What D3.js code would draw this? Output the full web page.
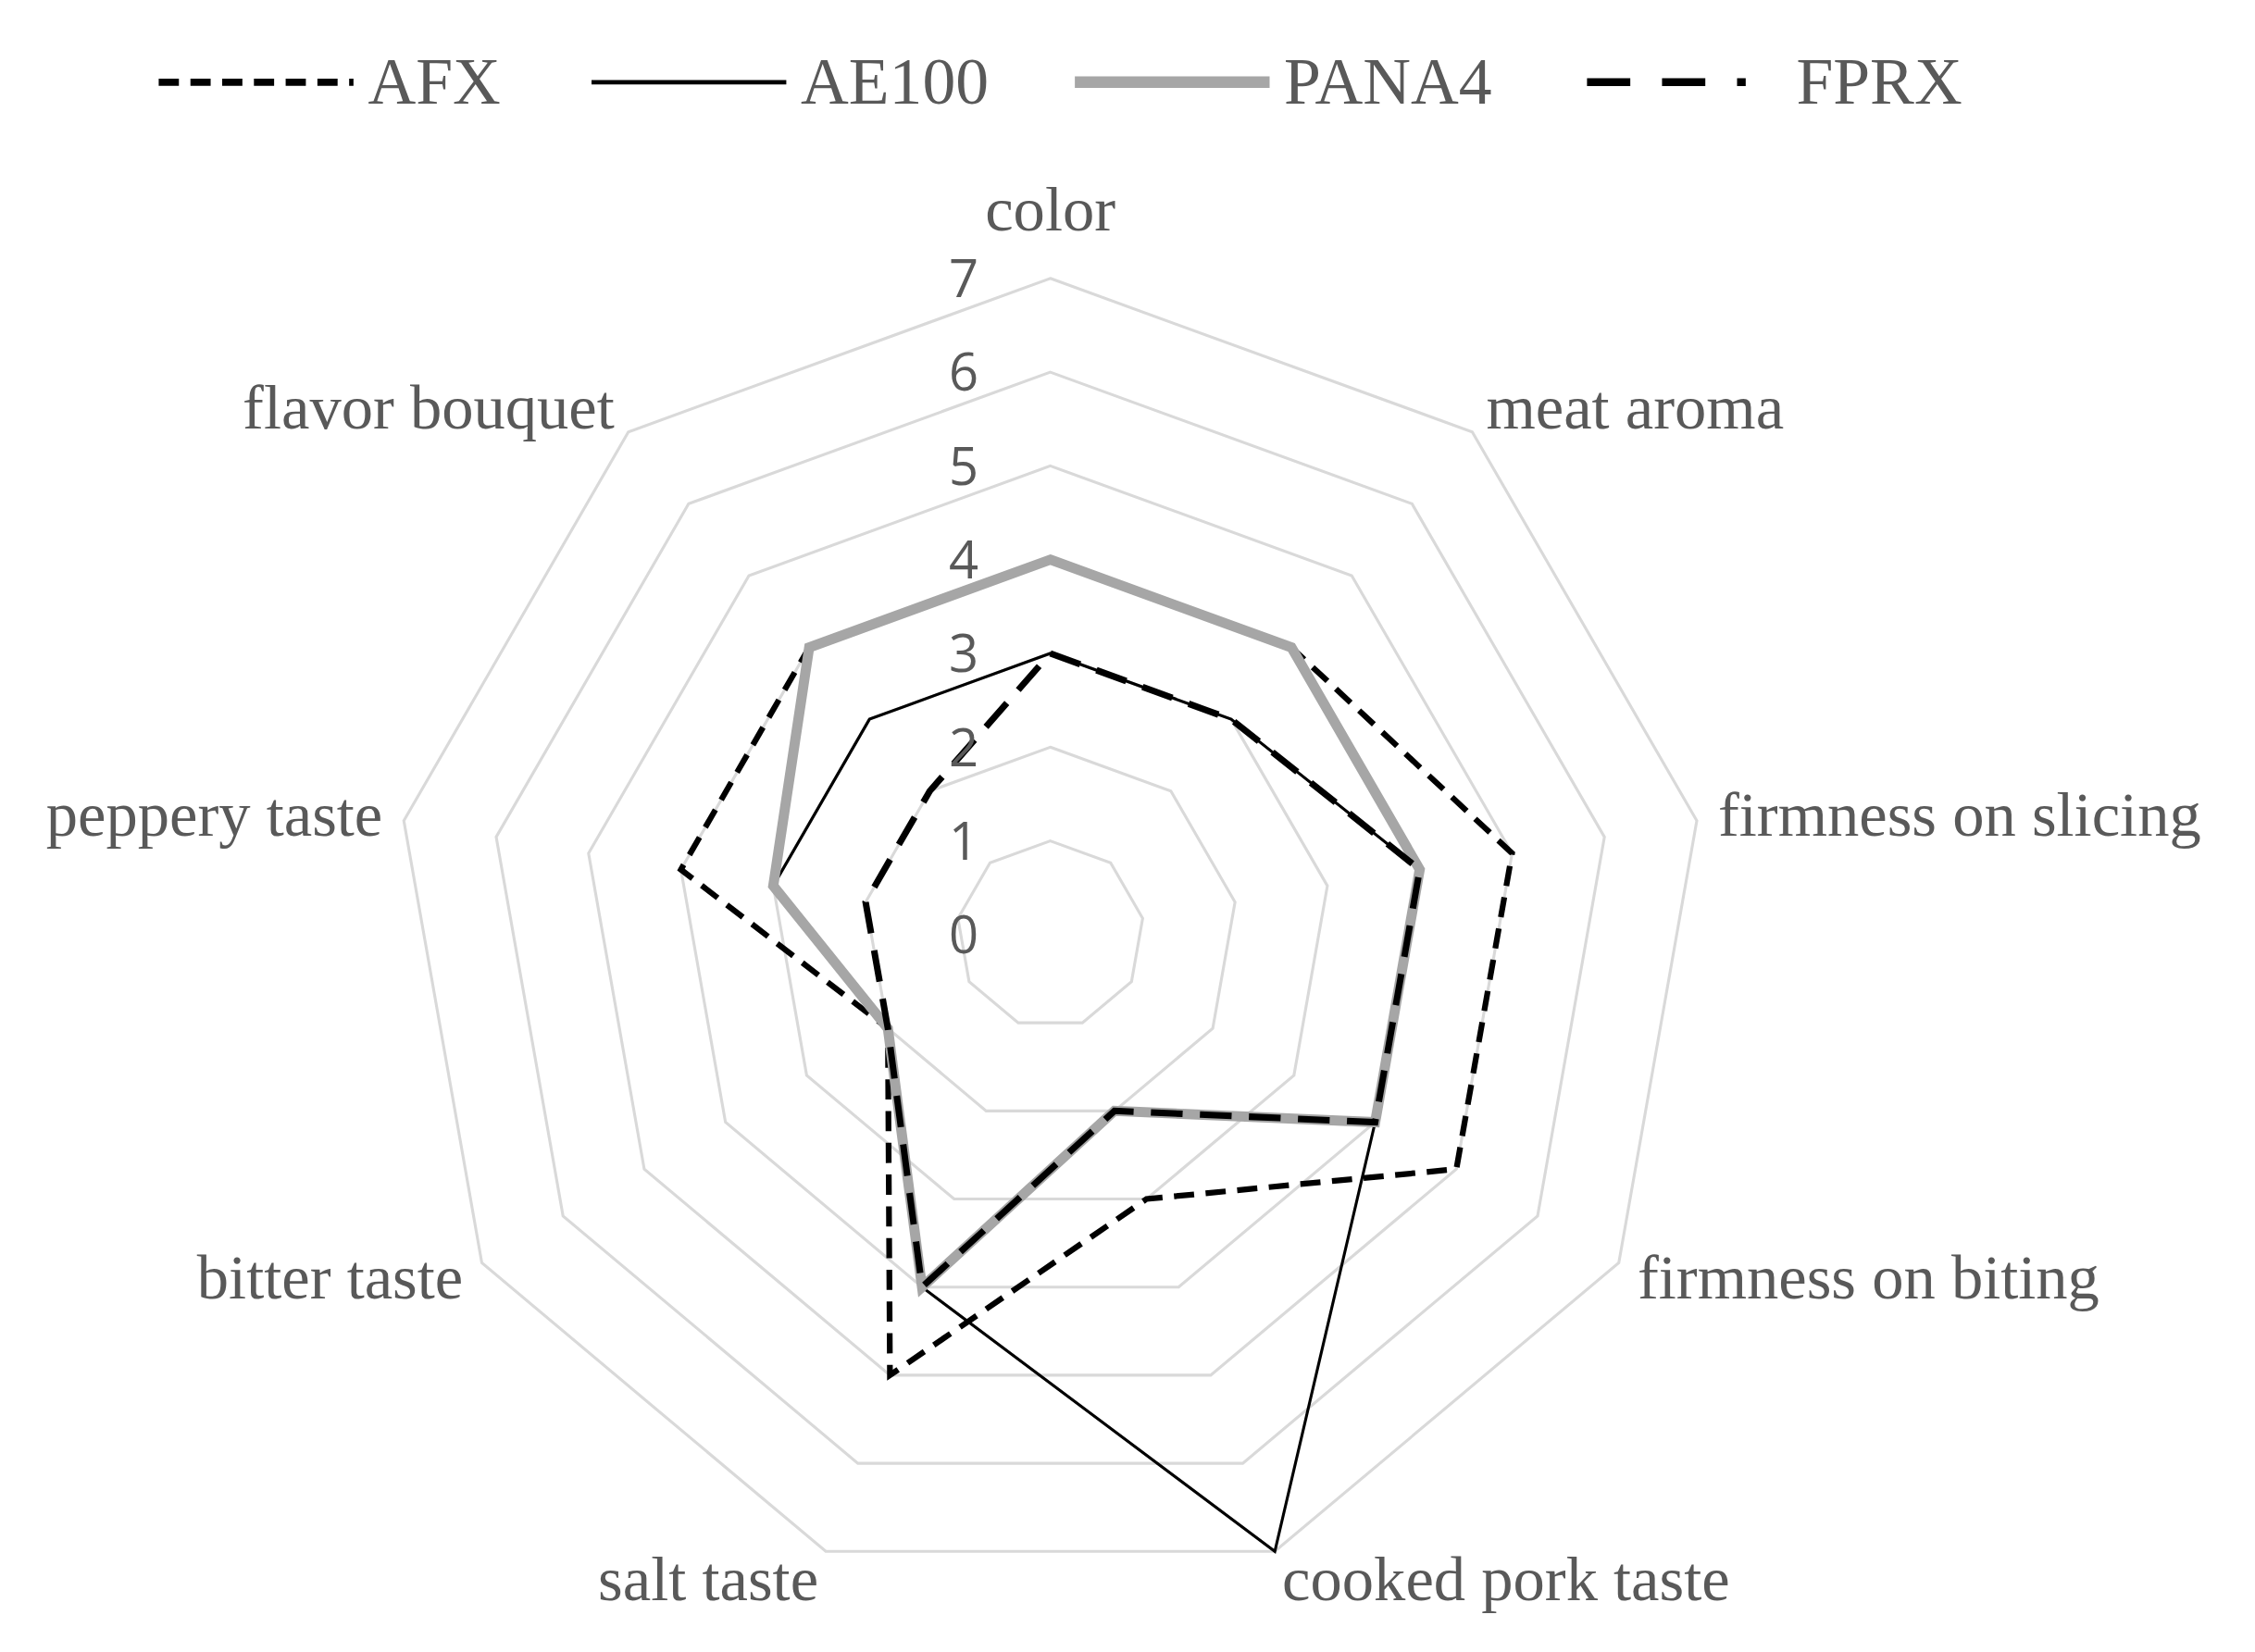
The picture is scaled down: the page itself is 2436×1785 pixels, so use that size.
<!DOCTYPE html>
<html><head><meta charset="utf-8">
<script src="https://cdnjs.cloudflare.com/ajax/libs/d3/7.8.5/d3.min.js"></script>
<style>body{margin:0;background:#fff}</style>
</head><body><div id="chart"></div>
<script>
// data
var axes = ['color', 'meat aroma', 'firmness on slicing', 'firmness on biting', 'cooked pork taste', 'salt taste', 'bitter taste', 'peppery taste', 'flavor bouquet'];
var seriesNames = ['AFX', 'AE100', 'PANA4', 'FPRX'];
var afx   = [4, 4, 5, 5, 3, 5, 2, 4, 4];
var ae100 = [3, 3, 4, 4, 7, 4, 2, 3, 3];
var pana4 = [4, 4, 4, 4, 2, 4, 2, 3, 4];
var fprx  = [3, 3, 4, 4, 2, 4, 2, 2, 2];
var ticks = [0, 1, 2, 3, 4, 5, 6, 7];

var W = 2436, H = 1785, s = W / 1563;
var cx = 728, cy = 648;

var styles = [
	{ stroke: '#000', width: 4, dash: '14,8', legDash: '14,8' },
	{ stroke: '#000', width: 2, dash: null, legDash: null },
	{ stroke: '#a6a6a6', width: 7, dash: null, legDash: null },
	{ stroke: '#000', width: 4.5, dash: '22,12', legDash: '30,22,30,22,6,30' }
];
var data = [afx, ae100, pana4, fprx];

var svg = d3.select('#chart').append('svg')
	.attr('width', W).attr('height', H)
	.append('g').attr('transform', 'scale(' + s + ')');

var r = d3.scaleLinear().domain([0, 7]).range([0, 455]);
var ang = d3.scaleLinear().domain([0, axes.length]).range([0, 2 * Math.PI]);

function pt(i, v) {
	var a = ang(i);
	return [cx + r(v) * Math.sin(a), cy - r(v) * Math.cos(a)];
}

var line = d3.line().curve(d3.curveLinearClosed);

// grid rings
ticks.slice(1).forEach(function(t){
	svg.append('path')
		.attr('d', line(axes.map(function(d, i){ return pt(i, t) })))
		.attr('fill', 'none').attr('stroke', '#d9d9d9').attr('stroke-width', 2);
});

// series
data.forEach(function(vals, k){
	var st = styles[k];
	svg.append('path')
		.attr('d', line(vals.map(function(v, i){ return pt(i, v) })))
		.attr('fill', 'none')
		.attr('stroke', st.stroke)
		.attr('stroke-width', st.width)
		.attr('stroke-dasharray', st.dash)
		.attr('stroke-linejoin', 'miter');
});

// tick labels
ticks.forEach(function(t){
	svg.append('text')
		.attr('x', cx - 60).attr('y', cy - r(t) + 13)
		.attr('text-anchor', 'middle')
		.attr('font-family', 'Open Sans, sans-serif')
		.attr('font-size', 36).attr('fill', '#595959')
		.text(t);
});

// axis labels
axes.forEach(function(name, i){
	var a = ang(i), sa = Math.sin(a), ca = Math.cos(a);
	var p = pt(i, 7.23);
	var anchor = sa > 0.1 ? 'start' : (sa < -0.1 ? 'end' : 'middle');
	svg.append('text')
		.attr('x', p[0])
		.attr('y', p[1] + 14 - ca * 6 - (anchor === 'middle' ? 26 : 0))
		.attr('text-anchor', anchor)
		.attr('font-family', 'Liberation Serif, serif')
		.attr('font-size', 44).attr('fill', '#595959')
		.text(name);
});

// legend
var legX = [110, 410, 745, 1100];
seriesNames.forEach(function(name, k){
	var st = styles[k];
	var g = svg.append('g').attr('transform', 'translate(' + legX[k] + ',57)');
	g.append('line').attr('x1', 0).attr('x2', 135).attr('y1', 0).attr('y2', 0)
		.attr('stroke', st.stroke).attr('stroke-width', k === 2 ? 8 : st.width + 1)
		.attr('stroke-dasharray', st.legDash);
	g.append('text').attr('x', 145).attr('y', 15)
		.attr('font-family', 'Liberation Serif, serif')
		.attr('font-size', 46).attr('fill', '#595959')
		.text(name);
});
</script>
</body></html>
